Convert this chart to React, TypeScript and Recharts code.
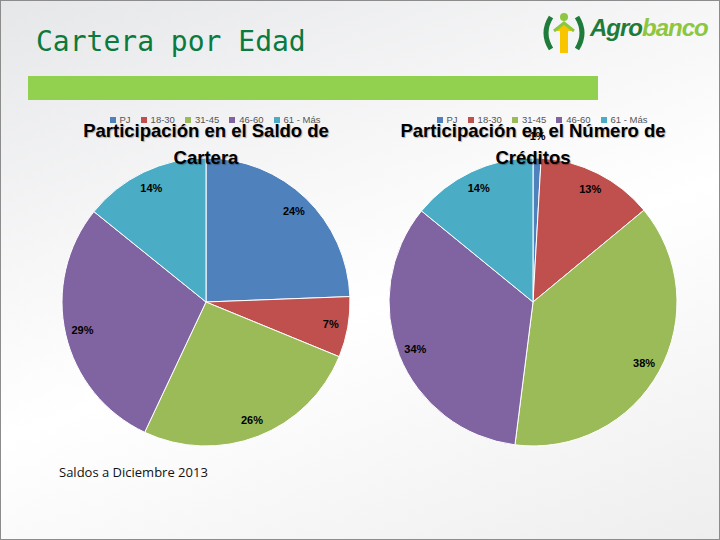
import { Legend, Pie, PieChart, Cell } from 'recharts';

const grupos = ['PJ', '18-30', '31-45', '46-60', '61 - Más'];
const colores = ['#4F81BD', '#C0504D', '#9BBB59', '#8064A2', '#4BACC6'];
const saldoCartera = [24.4, 6.8, 25.8, 28.8, 14.2];
const numeroCreditos = [0.9, 13.1, 38.0, 33.9, 14.1];

const RAD = Math.PI / 180;

function buildData(values: number[]) {
  return grupos.map((name, i) => ({ name, value: values[i], color: colores[i] }));
}

function PctLabel(props: any) {
  const { cx, cy, midAngle, outerRadius, percent } = props;
  const r = percent < 0.03 ? outerRadius + 22 : outerRadius * 0.88;
  const x = cx + r * Math.cos(-midAngle * RAD);
  const y = cy + r * Math.sin(-midAngle * RAD);
  return (
    <text
      x={x}
      y={y}
      textAnchor="middle"
      dominantBaseline="central"
      fill="#000"
      fontSize={11}
      fontWeight="bold"
      fontFamily="Liberation Sans, Arial, sans-serif"
    >
      {`${Math.round(percent * 100)}%`}
    </text>
  );
}

interface PanelProps {
  values: number[];
  title: string[];
  left: number;
}

function Panel({ values, title, left }: PanelProps) {
  const data = buildData(values);
  return (
    <div style={{ position: 'absolute', left, top: 106, width: 330, height: 340 }}>
      <PieChart width={330} height={340} margin={{ top: 0, right: 0, bottom: 0, left: 0 }}>
        <Legend
          verticalAlign="top"
          align="center"
          iconType="square"
          iconSize={6}
          itemSorter={() => 0}
          wrapperStyle={{
            top: 8,
            left: 14,
            width: 330,
            fontSize: 9.5,
            fontFamily: 'Liberation Sans, Arial, sans-serif',
            color: '#555',
            lineHeight: '10px',
          }}
          formatter={(v: string) => <span style={{ color: '#555' }}>{v}</span>}
        />
        <Pie
          data={data}
          dataKey="value"
          nameKey="name"
          cx={165}
          cy={185}
          outerRadius={144}
          startAngle={90}
          endAngle={-270}
          stroke="#fff"
          strokeWidth={1}
          label={PctLabel}
          labelLine={false}
          isAnimationActive={false}
        >
          {data.map((d) => (
            <Cell key={d.name} fill={d.color} />
          ))}
        </Pie>
      </PieChart>
      <div
        style={{
          position: 'absolute',
          left: 0,
          top: 10,
          width: 330,
          textAlign: 'center',
          fontFamily: 'Liberation Sans, Arial, sans-serif',
          fontWeight: 'bold',
          fontSize: 18.5,
          lineHeight: '27px',
          color: '#000',
          textShadow: '1px 1px 1px rgba(0,0,0,0.3)',
        }}
      >
        {title.map((t) => (
          <div key={t}>{t}</div>
        ))}
      </div>
    </div>
  );
}

export default function App() {
  return (
    <div
      style={{
        position: 'fixed',
        left: 0,
        top: 0,
        width: 720,
        height: 540,
        boxSizing: 'border-box',
        border: '1px solid #8c8c8c',
        background: 'linear-gradient(160deg, #e6e7e9 0%, #f7f7f8 35%, #ffffff 55%, #eeeeef 100%)',
        overflow: 'hidden',
      }}
    >
      <div
        style={{
          position: 'absolute',
          left: 35,
          top: 24,
          fontFamily: 'DejaVu Sans Mono, monospace',
          fontSize: 28,
          color: '#0A7A3E',
        }}
      >
        Cartera por Edad
      </div>
      <div
        style={{ position: 'absolute', left: 27, top: 75, width: 570, height: 24, background: '#92D050' }}
      />
      <svg style={{ position: 'absolute', left: 538, top: 8 }} width={50} height={48}>
        <path d="M12 8 Q2 24 12 40" stroke="#1E7B3A" strokeWidth={5} fill="none" />
        <path d="M38 8 Q48 24 38 40" stroke="#1E7B3A" strokeWidth={5} fill="none" />
        <circle cx={25} cy={8} r={4} fill="#8DC63F" />
        <path d="M15 22 L25 14 L35 22 L29 22 L29 44 L21 44 L21 22 Z" fill="#F7C600" />
        <path d="M15 22 L25 14 L35 22" stroke="#8DC63F" strokeWidth={3} fill="none" />
      </svg>
      <div
        style={{
          position: 'absolute',
          left: 589,
          top: 13,
          fontFamily: 'Liberation Sans, Arial, sans-serif',
          fontStyle: 'italic',
          fontWeight: 'bold',
          fontSize: 24,
          letterSpacing: -1,
        }}
      >
        <span style={{ color: '#1E7B3A' }}>Agro</span>
        <span style={{ color: '#8DC63F' }}>banco</span>
      </div>
      <Panel values={saldoCartera} title={['Participación en el Saldo de', 'Cartera']} left={40} />
      <Panel values={numeroCreditos} title={['Participación en el Número de', 'Créditos']} left={367} />
      <div
        style={{
          position: 'absolute',
          left: 58,
          top: 462,
          fontFamily: 'Open Sans, sans-serif',
          fontSize: 13,
          color: '#111',
        }}
      >
        Saldos a Diciembre 2013
      </div>
    </div>
  );
}
